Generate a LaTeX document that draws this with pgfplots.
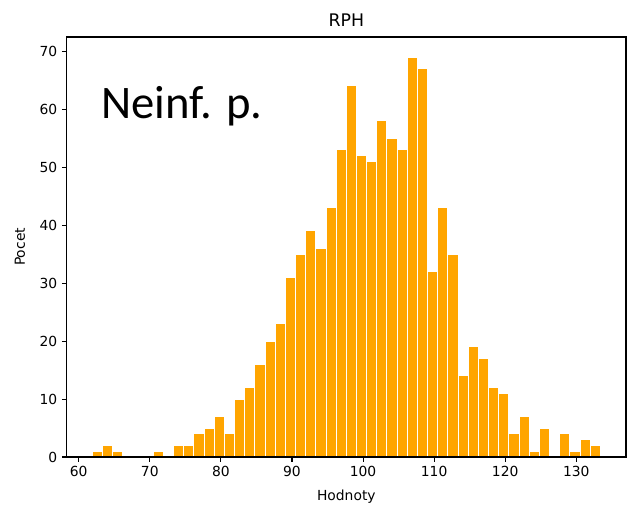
\documentclass[border=0pt]{standalone}
\usepackage{pgfplots}
\pgfplotsset{compat=1.18}
\usepackage{fontspec}
\setmainfont{DejaVu Sans}
\newfontfamily\carlito{Carlito}
\definecolor{mplorange}{HTML}{FFA500}
\begin{document}
\begin{tikzpicture}
\begin{axis}[
  scale only axis,
  width=419.5pt, height=315pt,
  xmin=58.3, xmax=137.0,
  ymin=0, ymax=72.45,
  axis on top,
  tick pos=left,
  tick align=outside,
  major tick length=3.6pt,
  xtick={60,70,...,130},
  ytick={0,10,...,70},
  every tick/.style={black, line width=0.8pt},
  axis line style={line width=0.8pt},
  /pgf/number format/assume math mode=true,
  ticklabel style={font=\fontsize{10.4}{12}\selectfont},
  title={RPH},
  title style={at={(axis description cs:0.5,1.0245)}, anchor=base, yshift=-6pt, inner sep=0pt, font=\fontsize{13}{15}\selectfont},
  xlabel={Hodnoty},
  xlabel style={at={(axis description cs:0.5,-0.1035)}, anchor=base, inner sep=0pt, font=\fontsize{10.4}{12}\selectfont},
  ylabel={Pocet},
  ylabel style={at={(axis description cs:-0.0745,0.5)}, anchor=base, inner sep=0pt, font=\fontsize{10.4}{12}\selectfont},
]
\addplot[ybar interval, fill=mplorange, draw=white, line width=0.75pt] coordinates {
(61.90,1) (63.33,2) (64.76,1) (66.19,0) (67.62,0) (69.05,0) (70.48,1) (71.91,0)
(73.34,2) (74.77,2) (76.20,4) (77.63,5) (79.06,7) (80.49,4) (81.92,10) (83.35,12)
(84.78,16) (86.21,20) (87.64,23) (89.07,31) (90.50,35) (91.93,39) (93.36,36) (94.79,43)
(96.22,53) (97.65,64) (99.08,52) (100.51,51) (101.94,58) (103.37,55) (104.80,53) (106.23,69)
(107.66,67) (109.09,32) (110.52,43) (111.95,35) (113.38,14) (114.81,19) (116.24,17) (117.67,12)
(119.10,11) (120.53,4) (121.96,7) (123.39,1) (124.82,5) (126.25,0) (127.68,4) (129.11,1)
(130.54,3) (131.97,2) (133.40,2)
};
\node[anchor=base west, inner sep=0pt, font=\carlito\fontsize{35}{38}\selectfont] at (rel axis cs:0.061,0.806) {Neinf. p.};
\end{axis}
\pgfresetboundingbox
\path[use as bounding box] ([shift={(-50pt,-36pt)}]current axis.south west) rectangle ([shift={(0.75pt,27.75pt)}]current axis.north east);
\end{tikzpicture}
\end{document}
